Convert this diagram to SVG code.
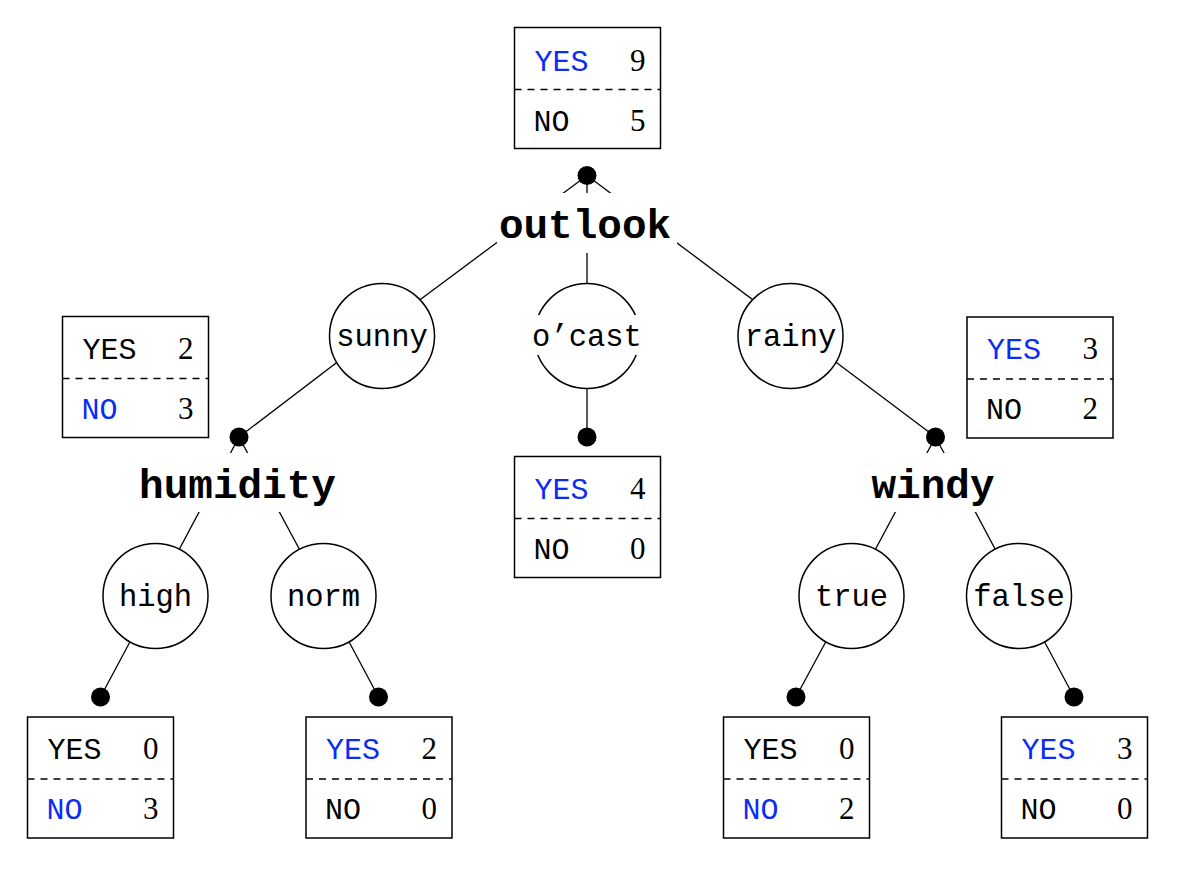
<svg xmlns="http://www.w3.org/2000/svg" width="1194" height="878" viewBox="0 0 1194 878">
<style>
.bg{fill:#fff;stroke:none}
.edge{stroke:#000;stroke-width:1.3;fill:none}
.dot{fill:#000}
.circ{fill:#fff;stroke:#000;stroke-width:1.5}
.frame{fill:#fff;stroke:#000;stroke-width:1.5}
.dash{stroke:#000;stroke-width:1.3;stroke-dasharray:7 6}
.mono{font-family:'Courier New','Liberation Mono',monospace;font-size:30px;fill:#000}
.val{font-family:'Courier New','Liberation Mono',monospace;font-size:30.5px;fill:#000;text-anchor:middle}
.attr{font-family:'Courier New','Liberation Mono',monospace;font-size:41px;font-weight:bold;fill:#000;text-anchor:middle}
.num{font-family:'Times New Roman','Liberation Serif',serif;font-size:31px;fill:#000;text-anchor:end}
.blue{fill:#0a2cf5}
</style>
<defs>
<g id="frame">
<rect class="frame" x="0" y="0" width="146" height="121"/>
<line class="dash" x1="0" y1="62" x2="146" y2="62"/>
</g>
</defs>

<g id="connectors">
<line class="edge" x1="382" y1="328" x2="587" y2="175.5"/>
<line class="edge" x1="587" y1="328" x2="587" y2="175.5"/>
<line class="edge" x1="790.5" y1="328" x2="587" y2="175.5"/>
<line class="edge" x1="382" y1="328" x2="239" y2="437"/>
<line class="edge" x1="790.5" y1="328" x2="935.5" y2="437"/>
<line class="edge" x1="587" y1="336" x2="587" y2="437"/>
<line class="edge" x1="155.5" y1="594" x2="239" y2="437"/>
<line class="edge" x1="323.5" y1="594" x2="239" y2="437"/>
<line class="edge" x1="851.5" y1="594" x2="935.5" y2="437"/>
<line class="edge" x1="1019" y1="594" x2="935.5" y2="437"/>
<line class="edge" x1="155.5" y1="594" x2="100.5" y2="697"/>
<line class="edge" x1="323.5" y1="594" x2="378.5" y2="697"/>
<line class="edge" x1="851.5" y1="594" x2="796" y2="697"/>
<line class="edge" x1="1019" y1="594" x2="1074" y2="697"/>
</g>

<g id="sunny">
<circle class="circ" cx="382" cy="336" r="52.5"/>
<rect class="bg" x="336.5" y="316" width="91" height="40"/>
<text class="val" x="382" y="346">sunny</text>
</g>
<g id="ocast">
<circle class="circ" cx="587" cy="336" r="52.5"/>
<rect class="bg" x="532" y="315" width="110" height="40"/>
<text class="val" x="587" y="346">o’cast</text>
</g>
<g id="rainy">
<circle class="circ" cx="790.5" cy="336" r="52.5"/>
<rect class="bg" x="745" y="316" width="91" height="40"/>
<text class="val" x="790.5" y="346">rainy</text>
</g>
<g id="high">
<circle class="circ" cx="155.5" cy="596" r="52.5"/>
<text class="val" x="155.5" y="606">high</text>
</g>
<g id="norm">
<circle class="circ" cx="323.5" cy="596" r="52.5"/>
<text class="val" x="323.5" y="606">norm</text>
</g>
<g id="true">
<circle class="circ" cx="851.5" cy="596" r="52.5"/>
<text class="val" x="851.5" y="606">true</text>
</g>
<g id="false">
<circle class="circ" cx="1019" cy="596" r="52.5"/>
<text class="val" x="1019" y="606">false</text>
</g>

<g id="outlook">
<rect class="bg" x="497" y="193" width="180" height="60"/>
<circle class="dot" cx="587" cy="175.5" r="9.5"/>
<text class="attr" x="585" y="238">outlook</text>
</g>
<g id="humidity">
<rect class="bg" x="136" y="453" width="204" height="59"/>
<circle class="dot" cx="239" cy="437" r="9.5"/>
<text class="attr" x="237.5" y="498">humidity</text>
</g>
<g id="windy">
<rect class="bg" x="867" y="453" width="131" height="59"/>
<circle class="dot" cx="935.5" cy="437" r="9.5"/>
<text class="attr" x="933" y="498">windy</text>
</g>

<g id="box-root" transform="translate(514.5,27.5)">
<use href="#frame"/>
<text class="mono blue" x="20" y="43">YES</text><text class="num" x="131" y="43">9</text>
<text class="mono" x="19" y="103">NO</text><text class="num" x="131" y="103">5</text>
</g>
<g id="box-sunny" transform="translate(62.5,316.5)">
<use href="#frame"/>
<text class="mono" x="20" y="42">YES</text><text class="num" x="131" y="42">2</text>
<text class="mono blue" x="19" y="102">NO</text><text class="num" x="131" y="102">3</text>
</g>
<g id="box-rainy" transform="translate(967,317)">
<use href="#frame"/>
<text class="mono blue" x="20" y="42">YES</text><text class="num" x="131" y="42">3</text>
<text class="mono" x="19" y="102">NO</text><text class="num" x="131" y="102">2</text>
</g>
<g id="leaf-ocast">
<circle class="dot" cx="587" cy="437" r="9.5"/>
<g transform="translate(514.5,456.5)">
<use href="#frame"/>
<text class="mono blue" x="20" y="42">YES</text><text class="num" x="131" y="42">4</text>
<text class="mono" x="19" y="102">NO</text><text class="num" x="131" y="102">0</text>
</g>
</g>
<g id="leaf-high">
<circle class="dot" cx="100.5" cy="697" r="9.5"/>
<g transform="translate(27.5,717)">
<use href="#frame"/>
<text class="mono" x="20" y="42">YES</text><text class="num" x="131" y="42">0</text>
<text class="mono blue" x="19" y="102">NO</text><text class="num" x="131" y="102">3</text>
</g>
</g>
<g id="leaf-norm">
<circle class="dot" cx="378.5" cy="697" r="9.5"/>
<g transform="translate(306,717)">
<use href="#frame"/>
<text class="mono blue" x="20" y="42">YES</text><text class="num" x="131" y="42">2</text>
<text class="mono" x="19" y="102">NO</text><text class="num" x="131" y="102">0</text>
</g>
</g>
<g id="leaf-true">
<circle class="dot" cx="796" cy="697" r="9.5"/>
<g transform="translate(723.5,717)">
<use href="#frame"/>
<text class="mono" x="20" y="42">YES</text><text class="num" x="131" y="42">0</text>
<text class="mono blue" x="19" y="102">NO</text><text class="num" x="131" y="102">2</text>
</g>
</g>
<g id="leaf-false">
<circle class="dot" cx="1074" cy="697" r="9.5"/>
<g transform="translate(1001.5,717)">
<use href="#frame"/>
<text class="mono blue" x="20" y="42">YES</text><text class="num" x="131" y="42">3</text>
<text class="mono" x="19" y="102">NO</text><text class="num" x="131" y="102">0</text>
</g>
</g>
</svg>
